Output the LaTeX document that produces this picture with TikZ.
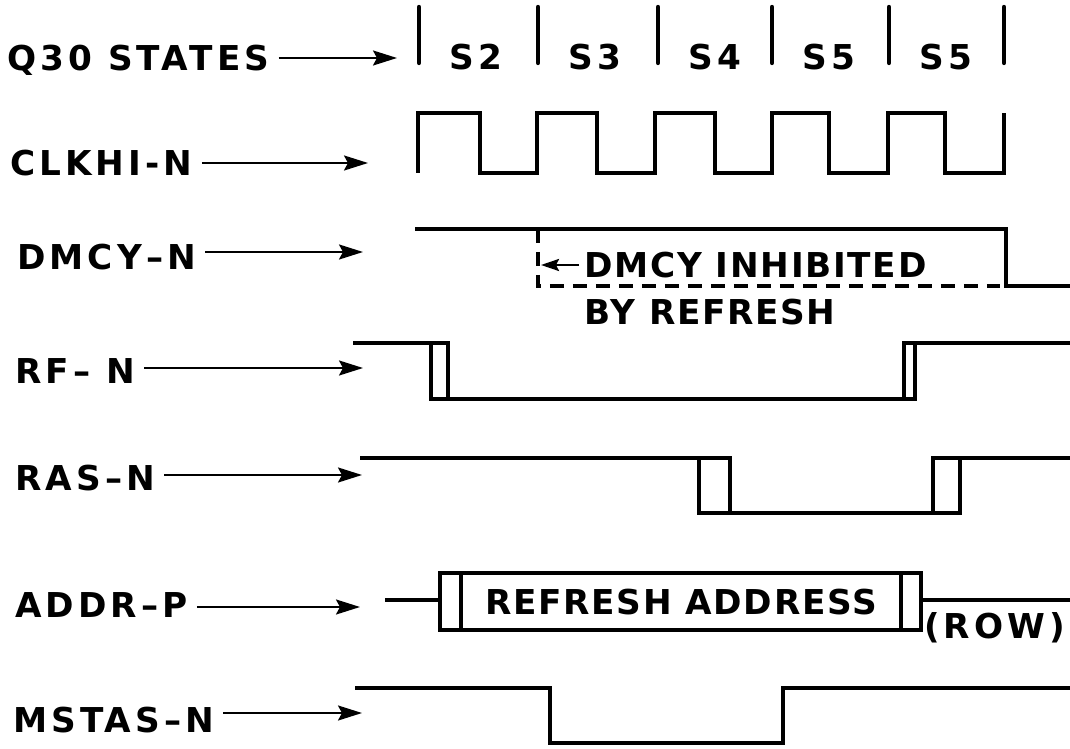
\documentclass[tikz,border=0pt]{standalone}
\usepackage{fontspec}
\newfontfamily\lettering[LetterSpace=12]{DejaVu Sans}
\newfontfamily\noteletters[LetterSpace=5]{DejaVu Sans}
\usetikzlibrary{arrows.meta}

\tikzset{
	lbl/.style={font=\lettering\bfseries\fontsize{19.5}{20}\selectfont, text height=14.2pt, text depth=0pt, inner ysep=0pt, inner xsep=5pt},
	note/.style={font=\noteletters\bfseries\fontsize{19.5}{20}\selectfont, text height=14.2pt, text depth=0pt, inner ysep=0pt, inner xsep=3pt},
	sig/.style={line width=1.3pt, -{Stealth[length=0.48cm, width=0.3cm, inset=0.08cm]}},
	wave/.style={line width=2.4pt, line join=miter},
	statemark/.style={line width=2.5pt, line cap=round},
	inhibit/.style={line width=2pt, dash pattern=on 0.28cm off 0.18cm}
}

\begin{document}
\begin{tikzpicture}[x=0.02cm, y=-0.02cm]
	
	\useasboundingbox (0,0) rectangle (1070,749);
	
	\node[lbl, anchor=west] (q30)   at (-2, 58)   {Q30 STATES};
	\node[lbl, anchor=west] (clk)   at (1, 163)   {CLKHI-N};
	\node[lbl, anchor=west] (dmcy)  at (8, 257)   {DMCY–N};
	\node[lbl, anchor=west] (rf)    at (6, 371)   {RF– N};
	\node[lbl, anchor=west] (ras)   at (6, 478)   {RAS–N};
	\node[lbl, anchor=west] (addr)  at (6, 605)   {ADDR–P};
	\node[lbl, anchor=west] (mstas) at (4, 720)   {MSTAS–N};
	
	\coordinate (q30-in)   at (397, 58);
	\coordinate (clk-in)   at (368, 163);
	\coordinate (dmcy-in)  at (363, 252);
	\coordinate (rf-in)    at (363, 368);
	\coordinate (ras-in)   at (362, 475);
	\coordinate (addr-in)  at (360, 607);
	\coordinate (mstas-in) at (362, 713);
	
	\draw[sig] (q30.east |- q30-in) -- (q30-in);
	\draw[sig] (clk.east |- clk-in) -- (clk-in);
	\draw[sig] (dmcy.east |- dmcy-in) -- (dmcy-in);
	\draw[sig] (rf.east |- rf-in) -- (rf-in);
	\draw[sig] (ras.east |- ras-in) -- (ras-in);
	\draw[sig] (addr.east |- addr-in) -- (addr-in);
	\draw[sig] (mstas.east |- mstas-in) -- (mstas-in);
	
	\foreach \x in {419,538,658,772,889,1004}
		\draw[statemark] (\x,7) -- (\x,63);
	\foreach \s/\x [count=\i] in {S2/476,S3/595,S4/715,S5/829,S5/946}
		\node[lbl] (s\i) at (\x,57) {\s};
	
	\draw[wave] (418,173) -- (418,113) -- (480,113) -- (480,173) -- (537,173)
		-- (537,113) -- (597,113) -- (597,173) -- (655,173)
		-- (655,113) -- (715,113) -- (715,173) -- (772,173)
		-- (772,113) -- (829,113) -- (829,173) -- (888,173)
		-- (888,113) -- (945,113) -- (945,173) -- (1004,173) -- (1004,113);
	
	\draw[wave] (415,229) -- (1006,229) -- (1006,286) -- (1070,286);
	\draw[inhibit] (538,229) -- (538,286) -- (1000,286);
	\node[note, anchor=west] (inh)   at (579,265) {DMCY INHIBITED};
	\node[note, anchor=west] (byref) at (579,312) {BY REFRESH};
	\coordinate (inh-tip) at (541,265);
	\draw[line width=1.4pt, -{Stealth[length=0.36cm, width=0.24cm, inset=0.06cm]}] (inh.west) -- (inh-tip);
	
	\draw[wave] (353,343) -- (431,343);
	\draw[wave] (431,343) rectangle (448,399);
	\draw[wave] (448,399) -- (904,399);
	\draw[wave] (904,343) rectangle (915,399);
	\draw[wave] (915,343) -- (1070,343);
	
	\draw[wave] (360,458) -- (699,458);
	\draw[wave] (699,458) rectangle (730,513);
	\draw[wave] (730,513) -- (933,513);
	\draw[wave] (933,458) rectangle (960,513);
	\draw[wave] (960,458) -- (1070,458);
	
	\draw[wave] (385,600) -- (440,600);
	\draw[wave] (440,573) rectangle (921,630);
	\draw[wave] (461,573) -- (461,630);
	\draw[wave] (901,573) -- (901,630);
	\draw[wave] (921,600) -- (1070,600);
	\node[note] (refaddr) at (681,602) {REFRESH ADDRESS};
	\node[lbl, anchor=west] (row) at (915,626) {(ROW)};
	
	\draw[wave] (355,688) -- (550,688) -- (550,743) -- (783,743) -- (783,688) -- (1070,688);
	
\end{tikzpicture}
\end{document}
